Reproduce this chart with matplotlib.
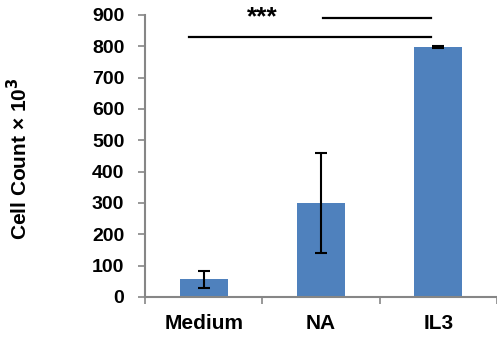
import numpy as np
import matplotlib.pyplot as plt
from matplotlib.ticker import FixedLocator

plt.rcParams['font.family'] = ['Liberation Sans', 'DejaVu Sans']
plt.rcParams['font.weight'] = 'bold'

categories = ['Medium', 'NA', 'IL3']
counts = [56, 299, 798]
errors = [27, 159, 3]

fig = plt.figure(figsize=(4.97, 3.39), dpi=100)
ax = fig.add_axes([0.292, 0.124, 0.708, 0.832])

x = np.arange(len(categories))
ax.bar(x, counts, width=0.41, color='#4F81BD', zorder=2)
ax.errorbar(x, counts, yerr=errors, fmt='none', ecolor='black',
            elinewidth=1.5, capsize=4, capthick=1.5, zorder=3)

ax.set_xlim(-0.5, 2.5)
ax.set_ylim(0, 900)
ax.set_yticks(np.arange(0, 901, 100))
ax.set_xticks(x)
ax.set_xticklabels(categories, fontsize=15, fontweight='bold')
ax.xaxis.set_minor_locator(FixedLocator([-0.5, 0.5, 1.5, 2.5]))
ax.tick_params(axis='x', which='major', length=0, pad=12)
ax.tick_params(axis='x', which='minor', length=5, color='#868686', width=1.2)
ax.tick_params(axis='y', length=5, color='#868686', width=1.2, labelsize=14, pad=10)
for lab in ax.get_yticklabels():
    lab.set_fontweight('bold')

for s in ['top', 'right']:
    ax.spines[s].set_visible(False)
for s in ['left', 'bottom']:
    ax.spines[s].set_color('#868686')
    ax.spines[s].set_linewidth(1.5)

ax.set_ylabel('Cell Count × 10$^{\\mathbf{3}}$', fontsize=15, fontweight='bold')
ax.yaxis.set_label_coords(-0.325, 0.49)

# significance lines
ax.plot([-0.125, 1.94], [829, 829], color='black', lw=1.6, clip_on=False)
ax.plot([1.02, 1.94], [889, 889], color='black', lw=1.6, clip_on=False)
ax.text(0.5, 893, '***', ha='center', va='center', fontsize=19, fontweight='bold')

fig.savefig('out.png', dpi=100)
